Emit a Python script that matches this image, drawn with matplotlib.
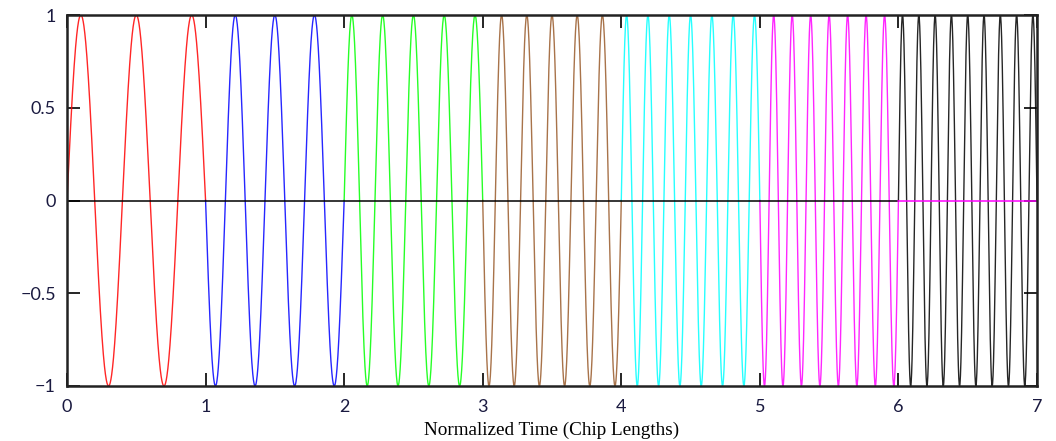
import numpy as np
import matplotlib
matplotlib.use("Agg")
import matplotlib.pyplot as plt

# one chip per segment, half-integer cycles so each piece ends on zero
chips = [0, 1, 2, 3, 4, 5, 6]
freqs = [2.5, 3.5, 4.5, 5.5, 6.5, 7.5, 8.5]
colors = ["#ff0000", "#0000ff", "#00ff00", "#995a2a", "#00ffff", "#ff00ff", "#000000"]
xticks = [0, 1, 2, 3, 4, 5, 6, 7]
yticks = [-1, -0.5, 0, 0.5, 1]
yticklabels = ["\u22121", "\u22120.5", "0", "0.5", "1"]

fig = plt.figure(figsize=(10.56, 4.41), dpi=100)
ax = fig.add_axes([67 / 1056, 1 - 386 / 441, (1037 - 67) / 1056, (386 - 15) / 441])

for k, f, c in zip(chips, freqs, colors):
    t = np.linspace(k, k + 1, 600)
    y = (-1) ** k * np.sin(2 * np.pi * f * (t - k))
    ax.plot(t, y, color=c, lw=1.0, alpha=0.85)

# zero traces (black over first six chips, magenta over the last)
ax.plot([0, 6], [0, 0], color="#000000", lw=1.1)
ax.plot([6, 7], [0, 0], color="#ff00ff", lw=1.1)

ax.set_xlim(0, 7)
ax.set_ylim(-1, 1)
ax.set_xticks(xticks)
ax.set_yticks(yticks)
ax.set_yticklabels(yticklabels)
ax.tick_params(direction="in", length=9.5, width=1.2, top=True, right=True,
               labelsize=13)
ax.tick_params(axis="x", pad=9)
ax.tick_params(axis="y", pad=8)
for lab in ax.get_xticklabels() + ax.get_yticklabels():
    lab.set_family("Lato")
    lab.set_color("#1a1a40")
for s in ax.spines.values():
    s.set_linewidth(1.8)
    s.set_color("#222222")

ax.set_xlabel("Normalized Time (Chip Lengths)", family="Liberation Serif",
              fontsize=13.8, labelpad=5)

fig.savefig("out.png", dpi=100)
